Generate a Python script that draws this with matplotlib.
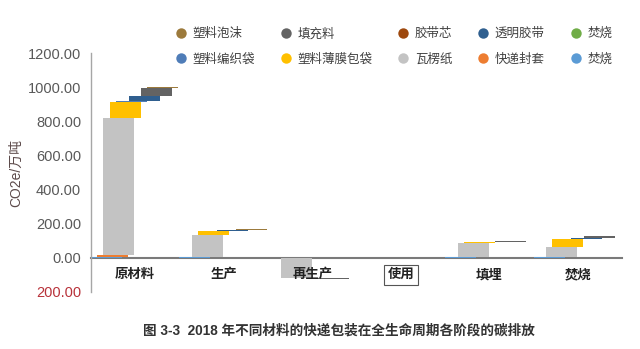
import numpy as np
import matplotlib
matplotlib.use('Agg')
import matplotlib.pyplot as plt
from matplotlib.lines import Line2D

plt.rcParams['font.family'] = ['Liberation Sans', 'Noto Sans CJK SC', 'DejaVu Sans']

# stages on the x axis
stages = ['原材料', '生产', '再生产', '使用', '填埋', '焚烧']

# series, in drawing (left to right / bottom to top) order
materials = ['焚烧', '快递封套', '瓦楞纸', '塑料薄膜包袋', '塑料编织袋',
             '焚烧', '透明胶带', '胶带芯', '填充料', '塑料泡沫']
colors = ['#5b9bd5', '#ed7d31', '#c3c3c3', '#ffc000', '#4f7db8',
          '#70ad47', '#2f5f8f', '#9e480e', '#636363', '#9c7a3c']

# CO2e (万吨) per stage, one value per material above
raw_material = [4, 10, 808, 90, 10, 0, 30, 0, 45, 5]
production = [2, 0, 132, 22, 2, 0, 3, 0, 3, 2]
reproduction = [0, 0, -122, 0, 0, 0, 0, 0, -3, 0]
usage = [0, 0, 0, 0, 0, 0, 0, 0, 0, 0]
landfill = [2, 0, 85, 3, 1, 0, 2, 0, 3, 1]
incineration = [3, 0, 62, 42, 3, 0, 7, 0, 8, 4]

yticks = [-200, 0, 200, 400, 600, 800, 1000, 1200]

data = np.array([raw_material, production, reproduction, usage, landfill, incineration], dtype=float)
tops = np.cumsum(data, axis=1)
bottoms = tops - data

fig = plt.figure(figsize=(6.4, 3.49), dpi=100)
ax = fig.add_axes([0.142, 0.162, 0.830, 0.685])

x = np.arange(len(stages))
step = 0.071
width = 0.35
for i in range(len(materials)):
    xs = x - 0.5 + i * step + width / 2
    ax.bar(xs, data[:, i], width=width, bottom=bottoms[:, i], color=colors[i],
           linewidth=0, zorder=1)

ax.set_axisbelow(False)
ax.set_xlim(-0.5, 5.5)
ax.set_ylim(-205, 1200)

# axes look
for s in ['top', 'right']:
    ax.spines[s].set_visible(False)
ax.spines['left'].set_color('#a6a6a6')
ax.spines['left'].set_linewidth(1.0)
ax.spines['bottom'].set_position(('data', 0))
ax.spines['bottom'].set_color('#7a7a7a')
ax.spines['bottom'].set_linewidth(1.5)
ax.spines['bottom'].set_zorder(0.8)

ax.set_yticks(yticks)
ax.set_yticklabels(['%.2f' % abs(v) for v in yticks])
ax.tick_params(axis='y', length=0, pad=7, labelsize=10.5, labelcolor='#595959')
for lab, v in zip(ax.get_yticklabels(), yticks):
    if v < 0:
        lab.set_color('#b8323a')

ax.set_xticks(x)
ax.set_xticklabels(stages)
ax.tick_params(axis='x', length=0, pad=8, labelsize=9.6)
for lab in ax.get_xticklabels():
    lab.set_fontweight('bold')
    lab.set_color('#222222')
    if lab.get_text() == '使用':
        lab.set_bbox(dict(facecolor='white', edgecolor='#555555', linewidth=0.8, pad=2.5))

ax.set_ylabel('CO2e/万吨', fontsize=10, color='#5c4a4a', labelpad=3)

# legend, Excel style: row-wise order is the reverse of the drawing order
order = list(range(len(materials)))[::-1]
handles = [Line2D([], [], linestyle='', marker='o', markersize=7.5,
                  markerfacecolor=colors[i], markeredgewidth=0) for i in order]
labels = [materials[i] for i in order]
ncol = 5
# matplotlib fills columns first, so re-shuffle into row-wise order
idx = [r * ncol + c for c in range(ncol) for r in range(2)]
fig.legend([handles[k] for k in idx], [labels[k] for k in idx], ncol=ncol,
           loc='upper left', bbox_to_anchor=(0.273, 0.92), frameon=False,
           fontsize=9, labelcolor='#404040', handlelength=1.0, handletextpad=0.4,
           columnspacing=2.0, labelspacing=1.05, borderpad=0, borderaxespad=0)

fig.text(0.53, 0.052, '图 3-3  2018 年不同材料的快递包装在全生命周期各阶段的碳排放',
         ha='center', va='center', fontsize=9.8, fontweight='bold', color='#333333')

fig.savefig('out.png', dpi=100, facecolor='white')
